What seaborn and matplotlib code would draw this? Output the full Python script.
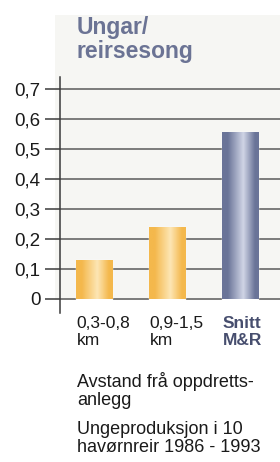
import numpy as np
import pandas as pd
import matplotlib
matplotlib.use("Agg")
import matplotlib.pyplot as plt
import matplotlib.colors as mcolors
from matplotlib.patches import Rectangle
import seaborn as sns

# Data
categories = ["0,3-0,8\nkm", "0,9-1,5\nkm", "Snitt\nM&R"]
values = [0.13, 0.24, 0.555]
yticks = [0.0, 0.1, 0.2, 0.3, 0.4, 0.5, 0.6, 0.7]
ytick_labels = ["0", "0,1", "0,2", "0,3", "0,4", "0,5", "0,6", "0,7"]
bar_edges = ["#f4b84c", "#f4b84c", "#6a7498"]
bar_highlights = ["#fde6b4", "#fde6b4", "#d0d5e6"]

title = "Ungar/\nreirsesong"
xlabel = "Avstand frå oppdretts-\nanlegg"
caption = "Ungeproduksjon i 10\nhavørnreir 1986 - 1993"

sns.set_theme(style="white")
plt.rcParams["font.family"] = ["Liberation Sans", "DejaVu Sans"]

W, H = 280, 462
fig = plt.figure(figsize=(W / 100, H / 100), dpi=100)

# light panel behind the chart
panel = Rectangle((55 / W, 1 - 300 / H), 1, 285 / H,
                  transform=fig.transFigure, facecolor="#f6f6f3",
                  edgecolor="none", zorder=-10)
fig.patches.append(panel)

ax = fig.add_axes([60 / W, 1 - 313 / H, 220 / W, 236 / H])
ax.set_facecolor("none")

df = pd.DataFrame({"cat": categories, "val": values})
sns.barplot(data=df, x="cat", y="val", ax=ax, width=0.5,
            color="#f4b84c", saturation=1, zorder=3)

# gradient fill for each bar
for patch, c0, c1 in zip(ax.patches, bar_edges, bar_highlights):
    x0, y0 = patch.get_x(), patch.get_y()
    w, h = patch.get_width(), patch.get_height()
    cmap = mcolors.LinearSegmentedColormap.from_list(
        "g", [(0, c0), (0.15, c0), (0.58, c1), (0.9, c0), (1, c0)])
    grad = np.linspace(0, 1, 64).reshape(1, -1)
    im = ax.imshow(grad, extent=[x0, x0 + w, y0, y0 + h], aspect="auto",
                   cmap=cmap, zorder=4, origin="lower")
    im.set_clip_path(patch)
    patch.set_facecolor(c0)
ax.set_xlim(-0.466, 2.548)
ax.set_ylim(-0.047, 0.74)

# grid + ticks
ax.set_yticks(yticks)
ax.set_yticklabels(ytick_labels, fontsize=13.5, color="#1a1a1a")
ax.yaxis.grid(True, color="#5a5a5a", linewidth=1.1)
ax.set_axisbelow(True)
ax.tick_params(axis="y", length=11, width=1.1, color="#3a3a3a", pad=3, left=True)
ax.tick_params(axis="x", length=0)
ax.set_xticks([])
ax.set_xlabel("")
ax.set_ylabel("")
for s in ["top", "right", "bottom"]:
    ax.spines[s].set_visible(False)
ax.spines["left"].set_color("#3a3a3a")
ax.spines["left"].set_linewidth(1.1)

# category labels, left aligned at bar edges
for i, lab in enumerate(categories):
    bold = i == 2
    ax.text(i - 0.24, -0.058, lab, ha="left", va="top", fontsize=12.5,
            linespacing=1.12, color="#474e6e" if bold else "#1a1a1a",
            fontweight="semibold" if bold else "normal", clip_on=False)

fig.text(77 / W, 1 - 16 / H, title, ha="left", va="top", fontsize=16.5,
         fontweight="bold", color="#6b7394", linespacing=1.05)
fig.text(77 / W, 1 - 372 / H, xlabel, ha="left", va="top", fontsize=13,
         color="#1a1a1a", linespacing=1.08)
fig.text(77 / W, 1 - 421 / H, caption, ha="left", va="top", fontsize=13,
         color="#1a1a1a", linespacing=1.08)

fig.savefig("out.png", dpi=100)
